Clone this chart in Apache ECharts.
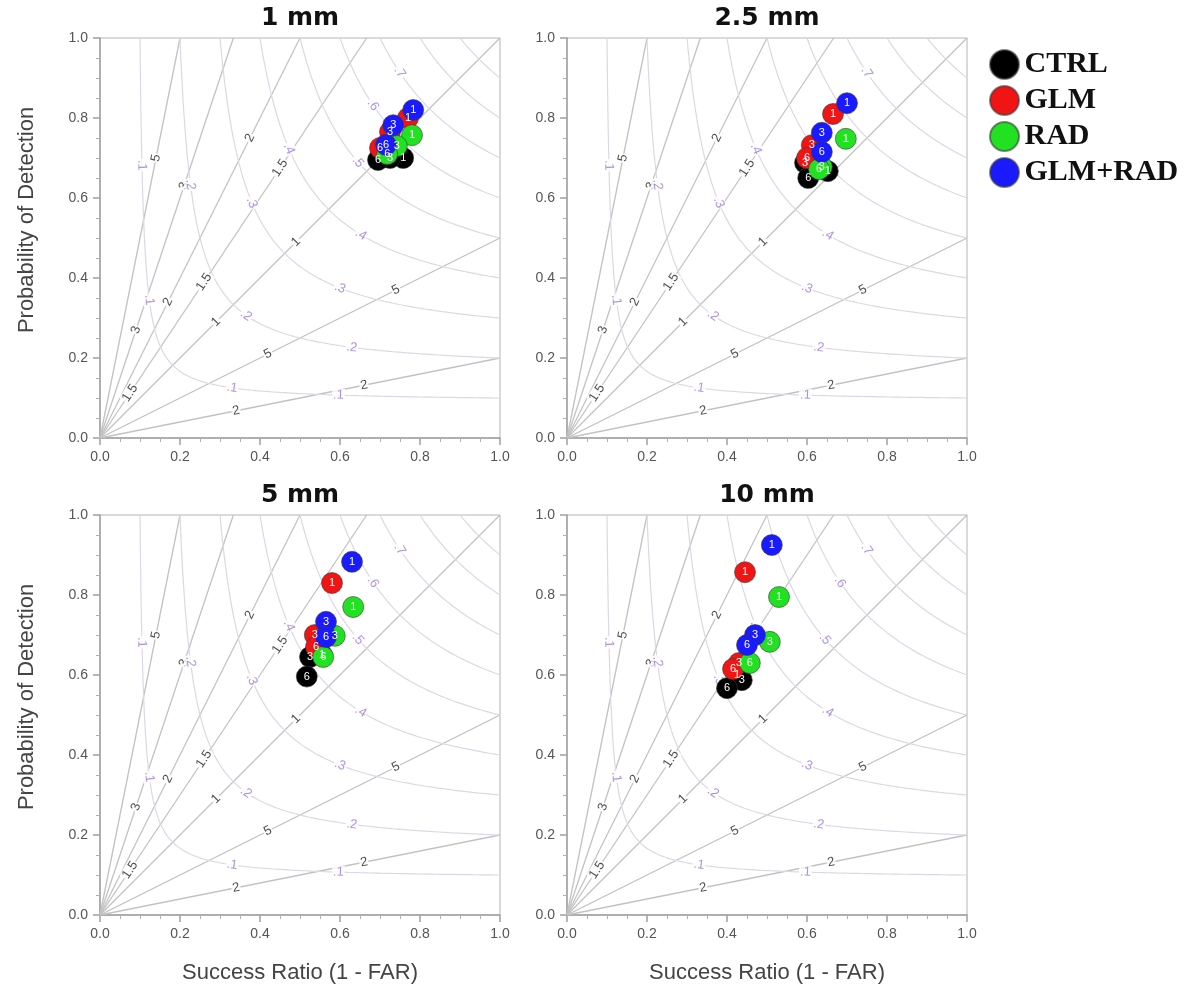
<!DOCTYPE html>
<html>
<head>
<meta charset="utf-8">
<script src="https://cdn.jsdelivr.net/npm/echarts@6/dist/echarts.min.js"></script>
<style>
html, body { margin: 0; padding: 0; background: #fff; }
#chart { width: 1189px; height: 991px; }
</style>
</head>
<body>
<div id="chart"></div>
<script>
// panels and runs
const panelTitles = ['1 mm', '2.5 mm', '5 mm', '10 mm'];
const runNames = ['CTRL', 'GLM', 'RAD', 'GLM+RAD'];
const runColors = ['#000000', '#f01414', '#22e022', '#1a1aff'];
const leadHours = ['1', '3', '6'];

// [success ratio, POD] for lead hours 1, 3, 6
const ctrl1 = [[0.758, 0.700], [0.725, 0.700], [0.695, 0.695]];
const glm1 = [[0.770, 0.800], [0.725, 0.765], [0.700, 0.725]];
const rad1 = [[0.780, 0.757], [0.742, 0.730], [0.718, 0.710]];
const both1 = [[0.783, 0.820], [0.733, 0.782], [0.715, 0.733]];

const ctrl25 = [[0.652, 0.667], [0.595, 0.688], [0.603, 0.650]];
const glm25 = [[0.665, 0.810], [0.612, 0.732], [0.600, 0.700]];
const rad25 = [[0.697, 0.748], [0.637, 0.678], [0.630, 0.672]];
const both25 = [[0.700, 0.837], [0.637, 0.763], [0.637, 0.715]];

const ctrl5 = [[0.555, 0.650], [0.525, 0.645], [0.517, 0.596]];
const glm5 = [[0.580, 0.830], [0.537, 0.700], [0.540, 0.670]];
const rad5 = [[0.633, 0.770], [0.587, 0.698], [0.558, 0.645]];
const both5 = [[0.630, 0.883], [0.565, 0.733], [0.565, 0.695]];

const ctrl10 = [[0.425, 0.600], [0.437, 0.587], [0.400, 0.567]];
const glm10 = [[0.445, 0.857], [0.430, 0.630], [0.415, 0.615]];
const rad10 = [[0.530, 0.795], [0.507, 0.683], [0.457, 0.630]];
const both10 = [[0.512, 0.925], [0.470, 0.700], [0.450, 0.675]];

const panelData = [
  [ctrl1, glm1, rad1, both1],
  [ctrl25, glm25, rad25, both25],
  [ctrl5, glm5, rad5, both5],
  [ctrl10, glm10, rad10, both10]
];

// background isolines of the performance diagram
const biasLevels = [0.2, 0.5, 1, 1.5, 2, 3, 5];
const biasLabelText = ['2', '5', '1', '1.5', '2', '3', '5'];
const biasLabelSR = [[0.34, 0.66], [0.42, 0.74], [0.29, 0.49], [0.075, 0.26, 0.45], [0.17, 0.375], [0.09, 0.21], [0.14]];
const csiLevels = [0.1, 0.2, 0.3, 0.4, 0.5, 0.6, 0.7, 0.8, 0.9];
const csiLabelBias = [[6.5, 2.8, 0.38, 0.18], [2.8, 0.84, 0.36], [1.55, 0.625], [1.53, 0.78], [1.07], [1.22], [1.22], [], []];

const grids = [
  { left: 100, top: 38, width: 400, height: 400 },
  { left: 567, top: 38, width: 400, height: 400 },
  { left: 100, top: 515, width: 400, height: 400 },
  { left: 567, top: 515, width: 400, height: 400 }
];

function biasLine(b) {
  return b <= 1 ? [[0, 0], [1, b]] : [[0, 0], [1 / b, 1]];
}

function csiCurve(c) {
  const pts = [];
  for (let i = 0; i <= 120; i++) {
    const t = i / 120;
    const sr = c + (1 - c) * t * t;
    const pod = 1 / (1 / c + 1 - 1 / sr);
    pts.push([sr, Math.min(pod, 1)]);
  }
  return pts;
}

let series = [];
for (let g = 0; g < 4; g++) {
  // bias lines
  biasLevels.forEach(function (b) {
    series.push({
      type: 'line', xAxisIndex: g, yAxisIndex: g, data: biasLine(b),
      symbol: 'none', silent: true, z: 1,
      lineStyle: { color: '#c2c2c2', width: 1.3 }
    });
  });
  // CSI curves
  csiLevels.forEach(function (c) {
    series.push({
      type: 'line', xAxisIndex: g, yAxisIndex: g, data: csiCurve(c),
      symbol: 'none', silent: true, z: 1,
      lineStyle: { color: '#dcd7e6', width: 1.2 }
    });
  });
  // bias labels
  let bl = [];
  biasLevels.forEach(function (b, i) {
    biasLabelSR[i].forEach(function (sr) {
      bl.push({
        value: [sr, b * sr, biasLabelText[i]],
        label: { rotate: Math.atan(b) * 180 / Math.PI }
      });
    });
  });
  series.push({
    type: 'scatter', xAxisIndex: g, yAxisIndex: g, data: bl, symbolSize: 0, silent: true, z: 2,
    label: {
      show: true, position: 'inside', formatter: function (p) { return p.value[2]; },
      color: '#222', fontSize: 13, fontFamily: 'Liberation Sans', backgroundColor: '#fff', padding: [0, 1]
    }
  });
  // CSI labels
  let cl = [];
  csiLevels.forEach(function (c, i) {
    csiLabelBias[i].forEach(function (b) {
      const sr = (1 + 1 / b) / (1 / c + 1);
      const pod = b * sr;
      const ang = -Math.atan(pod * pod / (sr * sr)) * 180 / Math.PI;
      cl.push({ value: [sr, pod, '.' + Math.round(c * 10)], label: { rotate: ang } });
    });
  });
  series.push({
    type: 'scatter', xAxisIndex: g, yAxisIndex: g, data: cl, symbolSize: 0, silent: true, z: 2,
    label: {
      show: true, position: 'inside', formatter: function (p) { return p.value[2]; },
      color: '#9a78d8', fontSize: 13, fontFamily: 'Liberation Sans', backgroundColor: '#fff', padding: [0, 1]
    }
  });
  // model runs
  panelData[g].forEach(function (pts, r) {
    series.push({
      name: runNames[r], type: 'scatter', xAxisIndex: g, yAxisIndex: g, z: 5,
      data: pts.map(function (p, h) { return [p[0], p[1], leadHours[h]]; }),
      symbolSize: 21,
      itemStyle: { color: runColors[r], borderColor: 'rgba(60,60,60,0.6)', borderWidth: 1, opacity: 1 },
      label: {
        show: true, position: 'inside', formatter: function (p) { return p.value[2]; },
        color: '#fff', fontSize: 11, fontFamily: 'Liberation Sans'
      }
    });
  });
}

const axisCommon = {
  type: 'value', min: 0, max: 1, interval: 0.2,
  axisLine: { show: true, lineStyle: { color: '#a0a0a0', width: 1.5 } },
  axisTick: { show: true, length: 7, lineStyle: { color: '#a0a0a0', width: 1.5 } },
  minorTick: { show: true, splitNumber: 4, length: 4, lineStyle: { color: '#b0b0b0' } },
  splitLine: { show: false },
  axisLabel: { color: '#555', fontSize: 14, fontFamily: 'Liberation Sans', margin: 12,
    formatter: function (v) { return v.toFixed(1); } }
};

const xAxes = grids.map(function (gr, i) {
  return Object.assign({ gridIndex: i }, axisCommon);
});
const yAxes = grids.map(function (gr, i) {
  return Object.assign({ gridIndex: i }, axisCommon);
});

const titleCenters = [[300, 6], [767, 6], [300, 483], [767, 483]];
let graphics = panelTitles.map(function (t, i) {
  return {
    type: 'text', x: titleCenters[i][0], y: titleCenters[i][1],
    style: { text: t, x: 0, y: 0, textAlign: 'center', align: 'center', fill: '#111',
      font: 'bold 25px "DejaVu Sans"' }
  };
});
// axis names
const nameFont = '22px "Liberation Sans"';
[[300, 962], [767, 962]].forEach(function (p) {
  graphics.push({
    type: 'text', x: p[0], y: p[1],
    style: { text: 'Success Ratio (1 - FAR)', x: 0, y: 0, textAlign: 'center', align: 'center',
      fill: '#444', font: nameFont }
  });
});
[[16, 220], [16, 697]].forEach(function (p) {
  graphics.push({
    type: 'text', x: p[0], y: p[1], rotation: Math.PI / 2,
    style: { text: 'Probability of Detection', x: 0, y: 0, textAlign: 'center', align: 'center',
      fill: '#444', font: nameFont }
  });
});

let chart = echarts.init(document.getElementById('chart'));
chart.setOption({
  animation: false,
  backgroundColor: '#fff',
  grid: grids.map(function (g) {
    return Object.assign({ show: true, borderColor: '#b4b4b4', borderWidth: 1, backgroundColor: 'transparent' }, g);
  }),
  xAxis: xAxes,
  yAxis: yAxes,
  legend: {
    data: runNames, orient: 'vertical', left: 984, top: 44,
    icon: 'circle', itemWidth: 30, itemHeight: 29, itemGap: 5,
    textStyle: { fontFamily: 'Liberation Serif', fontWeight: 'bold', fontSize: 30, color: '#111' }
  },
  graphic: graphics,
  series: series
});
</script>
</body>
</html>
